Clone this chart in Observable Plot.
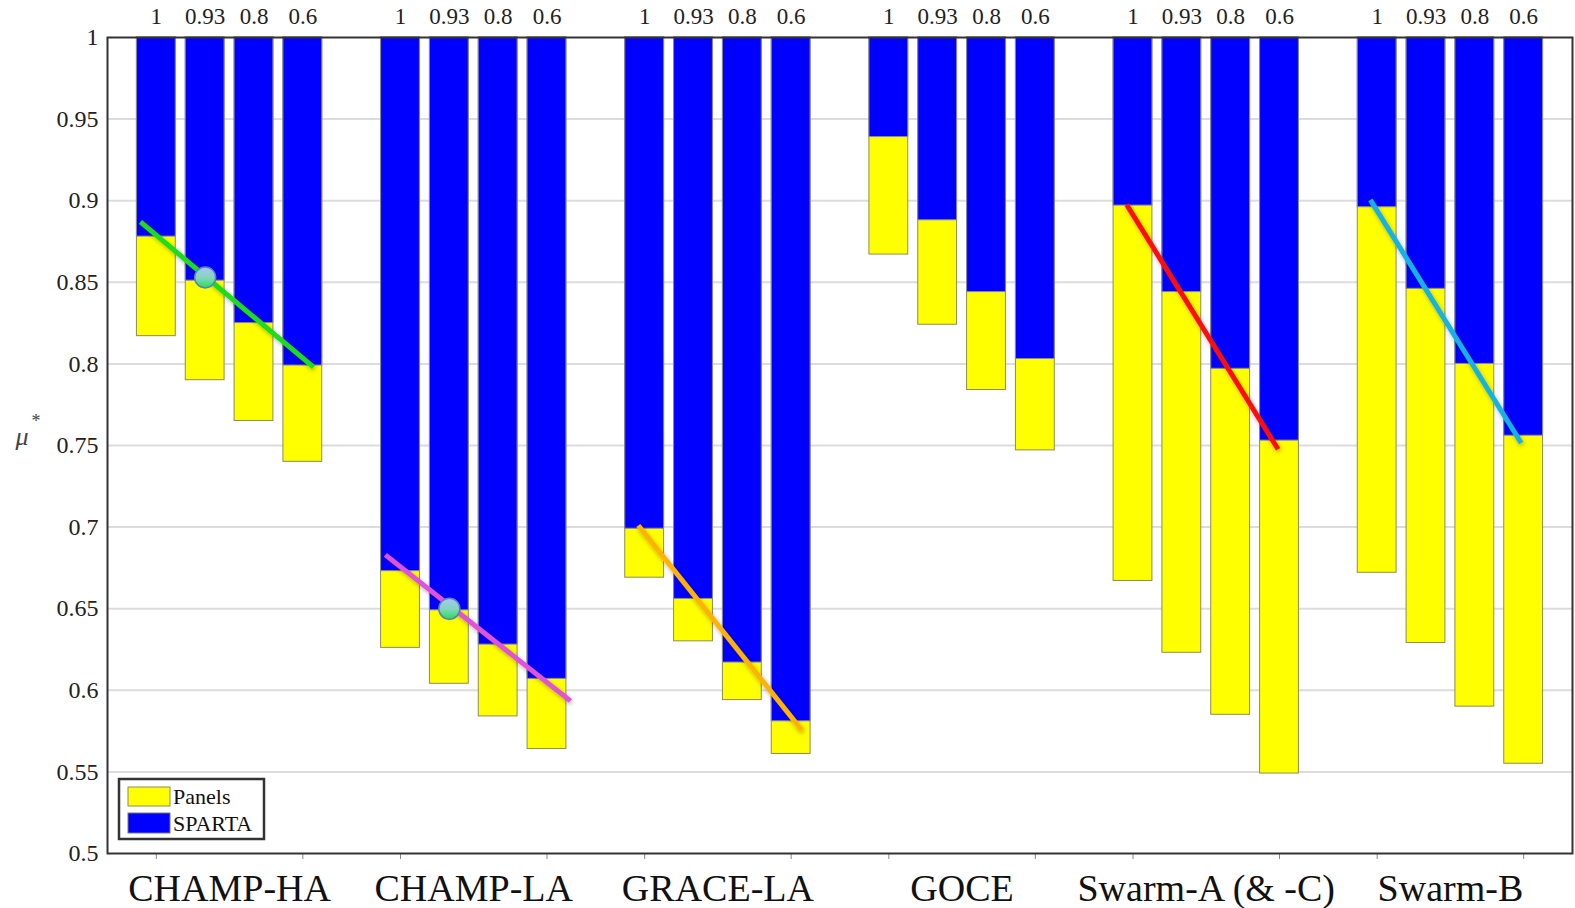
<!DOCTYPE html>
<html><head><meta charset="utf-8">
<script src="https://cdn.jsdelivr.net/npm/d3@7"></script>
<script src="https://cdn.jsdelivr.net/npm/@observablehq/plot@0.6"></script>
<style>
body{margin:0;background:#fff;}
#chart svg, #chart svg text, #chart svg g {font-family: "Liberation Serif", "Times New Roman", serif !important;}
g[aria-label^="x-axis"] line, g[aria-label^="x-axis"] path {stroke:#888;}
</style>
</head><body><div id="chart"></div>
<script>
const groups = ["CHAMP-HA", "CHAMP-LA", "GRACE-LA", "GOCE", "Swarm-A (& -C)", "Swarm-B"];
const alphaLabels = ["1", "0.93", "0.8", "0.6"];
// SPARTA (blue) and Panels (yellow) values per group, alpha = 1, 0.93, 0.8, 0.6
const spartaValues = [
  [0.878, 0.851, 0.825, 0.799],
  [0.673, 0.649, 0.628, 0.607],
  [0.699, 0.656, 0.617, 0.581],
  [0.939, 0.888, 0.844, 0.803],
  [0.897, 0.844, 0.797, 0.753],
  [0.896, 0.846, 0.800, 0.756]
];
const panelsValues = [
  [0.817, 0.790, 0.765, 0.740],
  [0.626, 0.604, 0.584, 0.564],
  [0.669, 0.630, 0.594, 0.561],
  [0.867, 0.824, 0.784, 0.747],
  [0.667, 0.623, 0.585, 0.549],
  [0.672, 0.629, 0.590, 0.555]
];
// fit lines (slot units on x)
const fitX1 = [0.675, 5.69, 10.87, 20.87, 25.86];
const fitY1 = [0.887, 0.683, 0.701, 0.8975, 0.9005];
const fitX2 = [4.22, 9.48, 14.22, 23.97, 28.95];
const fitY2 = [0.798, 0.5935, 0.5755, 0.7477, 0.7515];
const fitColors = ["#1fdc1f", "#e052d6", "#ffb300", "#ff1010", "#18b2e4"];
// highlighted points
const markX = [2, 7];
const markY = [0.853, 0.650];
const yTicks = [0.5, 0.55, 0.6, 0.65, 0.7, 0.75, 0.8, 0.85, 0.9, 0.95, 1];

const rows = [];
groups.forEach((g, gi) => alphaLabels.forEach((a, i) => rows.push({
  group: g, alpha: a, pos: gi * 5 + i + 1, sparta: spartaValues[gi][i], panels: panelsValues[gi][i]
})));
const groupRows = groups.map((g, gi) => ({group: g, pos: gi * 5 + 2.5}));
const tickPositions = groups.flatMap((g, gi) => [gi * 5 + 1, gi * 5 + 4]);
const fits = fitX1.map((x, i) => ({x1: x, y1: fitY1[i], x2: fitX2[i], y2: fitY2[i], color: fitColors[i]}));
const marks = markX.map((x, i) => ({x, y: markY[i]}));

const serif = "Liberation Serif";

const plot = Plot.plot({
  width: 1575, height: 908,
  marginLeft: 107, marginRight: 3, marginTop: 37, marginBottom: 55,
  style: {fontFamily: "Liberation Serif", fontSize: "24px", color: "#222", background: "#fff"},
  x: {domain: [0, 30], ticks: tickPositions, tickFormat: () => "", tickSize: 6, label: null},
  y: {domain: [0.5, 1], ticks: yTicks, tickFormat: d => String(+d.toFixed(2)), tickSize: 0, tickPadding: 9, label: null},
  color: {type: "identity"},
  marks: [
    Plot.ruleY(yTicks.filter(v => v > 0.5 && v < 1), {stroke: "#dcdcdc", strokeWidth: 2}),
    Plot.rect(rows, {x1: d => d.pos - 0.5, x2: d => d.pos + 0.5, y1: 1, y2: "panels", fill: "#ffff00", stroke: "#8c8c5a", strokeWidth: 1, insetLeft: 5, insetRight: 5}),
    Plot.rect(rows, {x1: d => d.pos - 0.5, x2: d => d.pos + 0.5, y1: 1, y2: "sparta", fill: "#0000ff", stroke: "#8a8a9a", strokeWidth: 1, insetLeft: 5, insetRight: 5}),
    Plot.link(fits, {x1: "x1", y1: "y1", x2: "x2", y2: "y2", stroke: "color", strokeWidth: 5, strokeLinecap: "butt"}),
    Plot.dot(marks, {x: "x", y: "y", r: 10.5, fill: "url(#dotgrad)", stroke: "#5b82b5", strokeWidth: 1.5}),
    Plot.text(rows, {x: "pos", y: 1, text: "alpha", dy: -21, fontSize: 23, fill: "#222", fontFamily: serif}),
    Plot.text(groupRows, {x: "pos", y: 0.5, text: "group", dy: 35, fontSize: 38, fill: "#111", fontFamily: serif}),
    Plot.text(["μ"], {frameAnchor: "left", dx: -92, dy: -9, fontSize: 26, fontStyle: "italic", fill: "#444", textAnchor: "start", fontFamily: serif}),
    Plot.text(["*"], {frameAnchor: "left", dx: -76, dy: -24, fontSize: 18, fill: "#444", textAnchor: "start", fontFamily: serif}),
    Plot.frame({stroke: "#333", strokeWidth: 2})
  ]
});

const svg = d3.select(plot);
const defs = svg.insert("defs", ":first-child");
const grad = defs.append("linearGradient").attr("id", "dotgrad").attr("x1", 0).attr("y1", 0).attr("x2", 0).attr("y2", 1);
grad.append("stop").attr("offset", "0%").attr("stop-color", "#a9c6f2");
grad.append("stop").attr("offset", "55%").attr("stop-color", "#7fd6b8");
grad.append("stop").attr("offset", "100%").attr("stop-color", "#22e24a");
defs.append("filter").attr("id", "shadow").attr("x", "-20%").attr("y", "-20%").attr("width", "140%").attr("height", "140%")
  .append("feDropShadow").attr("dx", 1).attr("dy", 2).attr("stdDeviation", 2).attr("flood-color", "#000").attr("flood-opacity", 0.3);
svg.selectAll('g[aria-label="link"]').attr("filter", "url(#shadow)");
svg.selectAll('g[aria-label^="y-axis"] text').attr("font-family", serif).attr("font-size", 24);

// legend
const lg = svg.append("g").attr("font-size", 22).attr("fill", "#111").attr("text-anchor", "start").attr("font-family", serif);
lg.append("rect").attr("x", 119).attr("y", 779).attr("width", 145).attr("height", 60)
  .attr("fill", "#fff").attr("stroke", "#333").attr("stroke-width", 2.5);
lg.append("rect").attr("x", 128).attr("y", 787).attr("width", 42).attr("height", 19).attr("fill", "#ffff00").attr("stroke", "#8c8c5a");
lg.append("rect").attr("x", 128).attr("y", 813).attr("width", 42).attr("height", 20).attr("fill", "#0000ff").attr("stroke", "#777");
lg.append("text").attr("x", 173).attr("y", 804).attr("text-anchor", "start").text("Panels");
lg.append("text").attr("x", 173).attr("y", 831).attr("text-anchor", "start").text("SPARTA");

document.getElementById("chart").appendChild(plot);
</script>
</body></html>
